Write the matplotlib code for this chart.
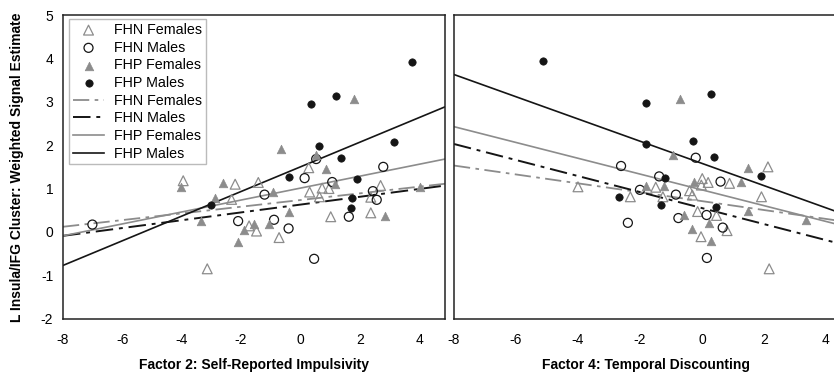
import matplotlib
matplotlib.use("Agg")
import matplotlib.pyplot as plt
import numpy as np

plt.rcParams["font.family"] = ["Liberation Sans", "DejaVu Sans"]
plt.rcParams["axes.unicode_minus"] = False

GRAY = "#8c8c8c"
BLACK = "#151515"

groups = ["FHN Females", "FHN Males", "FHP Females", "FHP Males"]

# Factor 2 panel (x, y) per group
f2_fhn_f_x = [-3.95, -2.2, -1.42, -2.32, -1.73, -1.48, -3.14, 0.28, 0.73, 0.96, 0.31, 0.64, 2.7, 2.37, -0.72, 1.02, 2.37]
f2_fhn_f_y = [1.18, 1.10, 1.14, 0.75, 0.14, 0.02, -0.85, 1.48, 1.01, 1.0, 0.92, 0.81, 1.07, 0.80, -0.13, 0.35, 0.44]
f2_fhn_m_x = [-7.01, -2.1, 0.53, 2.79, 0.14, 1.07, 2.44, 2.57, -1.21, -0.89, -0.40, 1.63, 0.46]
f2_fhn_m_y = [0.17, 0.25, 1.68, 1.50, 1.24, 1.15, 0.94, 0.74, 0.86, 0.28, 0.08, 0.35, -0.62]
f2_fhp_f_x = [-4.04, -2.62, -2.88, -3.34, -1.9, -1.57, -2.12, 1.81, -0.65, 0.51, 0.86, 1.17, 4.02, -0.92, -0.38, -1.07, 2.85]
f2_fhp_f_y = [1.03, 1.12, 0.78, 0.25, 0.05, 0.18, -0.24, 3.06, 1.92, 1.77, 1.46, 1.11, 1.04, 0.91, 0.47, 0.19, 0.36]
f2_fhp_m_x = [-3.03, 3.75, 0.37, 1.2, 0.64, 3.15, 1.36, -0.37, 1.92, 1.72, 1.70]
f2_fhp_m_y = [0.61, 3.92, 2.95, 3.14, 1.99, 2.08, 1.70, 1.27, 1.22, 0.78, 0.55]

# Factor 4 panel
f4_fhn_f_x = [-4.0, -2.31, 2.13, -1.49, 0.01, -0.02, 0.2, 0.89, 1.92, -1.26, -0.4, -0.31, -0.14, 0.47, 0.81, -0.03, 2.17]
f4_fhn_f_y = [1.04, 0.81, 1.50, 1.03, 1.23, 1.08, 1.14, 1.12, 0.81, 0.81, 0.95, 0.85, 0.47, 0.38, 0.03, -0.11, -0.85]
f4_fhn_m_x = [-2.61, -2.0, -2.39, -0.2, -1.38, 0.6, -0.84, 0.15, -0.76, 0.67, 0.16]
f4_fhn_m_y = [1.52, 0.97, 0.21, 1.71, 1.28, 1.16, 0.86, 0.39, 0.32, 0.10, -0.60]
f4_fhp_f_x = [-1.82, -0.7, -0.93, 1.49, -1.23, -0.27, 1.25, 1.47, 3.35, -0.57, 0.24, -0.33, 0.29]
f4_fhp_f_y = [1.06, 3.06, 1.77, 1.47, 1.07, 1.14, 1.14, 0.49, 0.27, 0.40, 0.20, 0.06, -0.22]
f4_fhp_m_x = [-5.12, -1.82, -1.8, -2.67, 0.29, -0.29, 0.38, 1.91, -1.2, -1.32, 0.46]
f4_fhp_m_y = [3.94, 2.97, 2.03, 0.81, 3.17, 2.10, 1.72, 1.30, 1.24, 0.62, 0.58]

# regression lines: slope, intercept (FHN F, FHN M, FHP F, FHP M)
f2_slopes = [0.077, 0.090, 0.1375, 0.284]
f2_intercepts = [0.735, 0.63, 1.01, 1.50]
f4_slopes = [-0.1025, -0.1846, -0.182, -0.256]
f4_intercepts = [0.71, 0.55, 0.97, 1.58]

marker_styles = [
    dict(marker="^", facecolors="none", edgecolors=GRAY, s=50, linewidths=0.9),
    dict(marker="o", facecolors="none", edgecolors=BLACK, s=42, linewidths=0.9),
    dict(marker="^", facecolors=GRAY, edgecolors=GRAY, s=38, linewidths=0.5),
    dict(marker="o", facecolors=BLACK, edgecolors=BLACK, s=28, linewidths=0.5),
]
line_styles = [
    dict(color=GRAY, lw=1.3, dashes=(9, 3, 2, 3)),
    dict(color=BLACK, lw=1.4, dashes=(9, 3, 2, 3)),
    dict(color=GRAY, lw=1.2),
    dict(color=BLACK, lw=1.2),
]

fig = plt.figure(figsize=(8.34, 3.76), dpi=100)
ax1 = fig.add_axes([63 / 834, 1 - 318.7 / 376, 382 / 834, 303.7 / 376])
ax2 = fig.add_axes([454 / 834, 1 - 318.7 / 376, 384 / 834, 303.7 / 376])

panels = [
    (ax1, (-8, 4.87), [(f2_fhn_f_x, f2_fhn_f_y), (f2_fhn_m_x, f2_fhn_m_y),
                       (f2_fhp_f_x, f2_fhp_f_y), (f2_fhp_m_x, f2_fhp_m_y)],
     f2_slopes, f2_intercepts, "Factor 2: Self-Reported Impulsivity"),
    (ax2, (-8, 4.39), [(f4_fhn_f_x, f4_fhn_f_y), (f4_fhn_m_x, f4_fhn_m_y),
                       (f4_fhp_f_x, f4_fhp_f_y), (f4_fhp_m_x, f4_fhp_m_y)],
     f4_slopes, f4_intercepts, "Factor 4: Temporal Discounting"),
]

for ax, xlim, pts, slopes, icpts, xlabel in panels:
    for (xs, ys), name, st in zip(pts, groups, marker_styles):
        ax.scatter(xs, ys, label=name, zorder=3, **st)
    xx = np.array(xlim)
    for b, a, name, st in zip(slopes, icpts, groups, line_styles):
        ax.plot(xx, a + b * xx, label=name, zorder=2, **st)
    ax.set_xlim(*xlim)
    ax.set_ylim(-2, 5)
    ax.set_xticks([-8, -6, -4, -2, 0, 2, 4])
    ax.tick_params(length=0, labelsize=10, pad=10)
    ax.set_xlabel(xlabel, fontsize=10, fontweight="bold", labelpad=8)
    for sp in ax.spines.values():
        sp.set_linewidth(1.1)
        sp.set_color("#222222")

ax1.set_yticks(range(-2, 6))
ax1.tick_params(axis="y", pad=7)
ax1.set_ylabel("L Insula/IFG Cluster: Weighted Signal Estimate",
               fontsize=10, fontweight="bold", labelpad=12)
ax2.set_yticks([])

leg = ax1.legend(loc="upper left", bbox_to_anchor=(0.005, 1.0), fontsize=10.3,
                 frameon=True, fancybox=False, edgecolor="#aaaaaa",
                 handlelength=2.2, handletextpad=0.7, labelspacing=0.26,
                 borderpad=0.25, borderaxespad=0.3, scatterpoints=1)
leg.get_frame().set_linewidth(1.0)

fig.savefig("out.png", dpi=100)
